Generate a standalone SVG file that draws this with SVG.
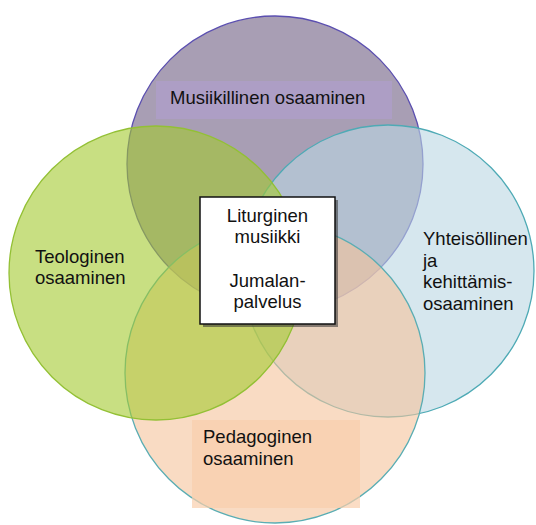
<svg xmlns="http://www.w3.org/2000/svg" width="536" height="525" viewBox="0 0 536 525">
  <style>
    .lbl { font-family: "Liberation Sans", Arial, Helvetica, sans-serif; font-size: 18.5px; fill: #111; }
    .mid { text-anchor: middle; }
    .circ { fill-opacity: 0.6; stroke-width: 1.3; }
  </style>
  <rect width="536" height="525" fill="#ffffff"/>
  <g id="node-musiikillinen">
    <circle class="circ" cx="275" cy="164" r="148" fill="#6e5d82" stroke="#5b4fb0"/>
    <rect x="156" y="81" width="236" height="38" fill="#ae9dc9" fill-opacity="0.8"/>
    <text class="lbl" x="170" y="104">Musiikillinen osaaminen</text>
  </g>
  <g id="node-yhteisollinen">
    <circle class="circ" cx="388" cy="271" r="146" fill="#bbd7e3" stroke="#4eaab5"/>
    <text class="lbl" x="423" y="245">Yhteisöllinen</text>
    <text class="lbl" x="423" y="266.5">ja</text>
    <text class="lbl" x="423" y="288">kehittämis-</text>
    <text class="lbl" x="423" y="309.5">osaaminen</text>
  </g>
  <g id="node-pedagoginen">
    <circle class="circ" cx="275" cy="373" r="150" fill="#f5c39b" stroke="#5aadb3"/>
    <rect x="192" y="420" width="168" height="88" fill="#f9cfac" fill-opacity="0.7"/>
    <text class="lbl" x="203" y="443">Pedagoginen</text>
    <text class="lbl" x="203" y="465">osaaminen</text>
  </g>
  <g id="node-teologinen">
    <circle class="circ" cx="156" cy="273" r="147" fill="#a3ca2f" stroke="#93c035"/>
    <text class="lbl" x="35" y="263">Teologinen</text>
    <text class="lbl" x="35" y="284">osaaminen</text>
  </g>
  <g id="node-center">
    <rect x="203" y="200" width="135" height="127" fill="#333333" fill-opacity="0.55"/>
    <rect x="200" y="197" width="135" height="127" fill="#ffffff" stroke="#111111" stroke-width="1.5"/>
    <text class="lbl mid" x="267.5" y="222">Liturginen</text>
    <text class="lbl mid" x="267.5" y="243">musiikki</text>
    <text class="lbl mid" x="267.5" y="287">Jumalan-</text>
    <text class="lbl mid" x="267.5" y="308">palvelus</text>
  </g>
</svg>
